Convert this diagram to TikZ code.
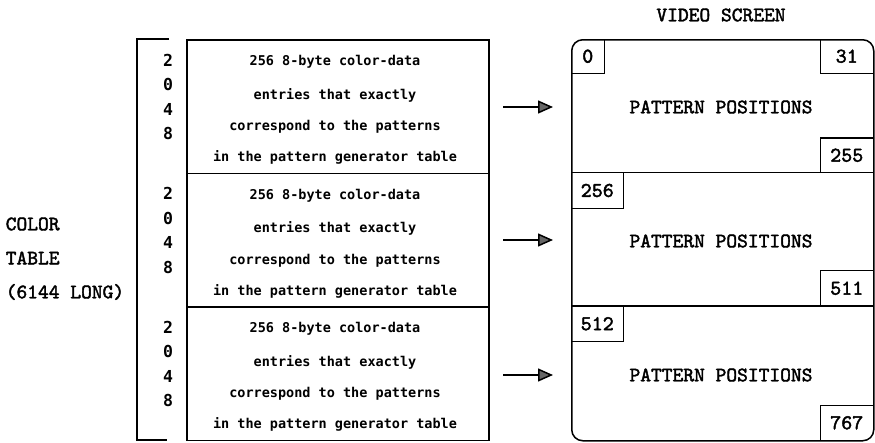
\documentclass[tikz,border=0pt]{standalone}
\usepackage{fontspec}
\usetikzlibrary{arrows.meta}
\newfontfamily\boxf{DejaVu Sans Mono}
\newfontfamily\labf{lmmono10-regular.otf}[FakeBold=2]
\begin{document}
\begin{tikzpicture}[x=1pt,y=-1pt,line width=1.5pt,
  lab/.style={font=\labf\fontsize{20.5}{22}\selectfont,inner sep=0pt},
  numf/.style={font=\labf\fontsize{21}{23}\selectfont,inner sep=0pt,minimum height=33,anchor=north west},
  btext/.style={font=\boxf\bfseries\fontsize{13.5}{16}\selectfont,inner sep=0pt},
  digit/.style={font=\boxf\bfseries\fontsize{16.5}{18}\selectfont,inner sep=0pt},
  secbox/.style={draw,minimum width=302,minimum height=133.5,anchor=north west,inner sep=0pt},
  arr/.style={-{Triangle[length=15pt,width=13pt,fill=black!60]}}]
\useasboundingbox (0,0) rectangle (875,442);
% left labels
\node[lab,anchor=west] (c1) at (5,224) {COLOR};
\node[lab,anchor=west] (c2) at (5,258) {TABLE};
\node[lab,anchor=west] (c3) at (5,292) {(6144 LONG)};
% bracket
\coordinate (bt) at (169,39);
\coordinate (btl) at (137,39);
\coordinate (bbl) at (137,440);
\coordinate (bb) at (167,440);
\draw (bt) -- (btl) -- (bbl) -- (bb);
% sections
\foreach \i/\y in {1/39,2/172.5,3/306} {
  \node[secbox] (s\i) at (186,\y) {};
  \node[digit] (d\i a) at (168,\y+21) {2};
  \node[digit] (d\i b) at (168,\y+45.5) {0};
  \node[digit] (d\i c) at (168,\y+70) {4};
  \node[digit] (d\i d) at (168,\y+94.5) {8};
  \node[btext] (t\i a) at (335,\y+23) {256 8-byte color-data};
  \node[btext] (t\i b) at (335,\y+56) {entries that exactly};
  \node[btext] (t\i c) at (335,\y+88) {correspond to the patterns};
  \node[btext] (t\i d) at (335,\y+118.5) {in the pattern generator table};
}
% screen
\node[lab] (vs) at (721,15) {VIDEO SCREEN};
\node[draw,rounded corners=11pt,minimum width=302,minimum height=401,anchor=north west,inner sep=0pt] (scr) at (571,39) {};
\coordinate (l1) at (571,172.5);
\coordinate (r1) at (873,172.5);
\coordinate (l2) at (571,306);
\coordinate (r2) at (873,306);
\draw (l1) -- (r1);
\draw (l2) -- (r2);
\node[lab] (p1) at (721,107) {PATTERN POSITIONS};
\node[lab] (p2) at (721,241) {PATTERN POSITIONS};
\node[lab] (p3) at (721,375) {PATTERN POSITIONS};
% corner number boxes
\node[numf,minimum width=32] (n0) at (571,39) {0};
\draw (n0.north east) |- (n0.south west);
\node[numf,minimum width=51,anchor=north east] (n31) at (873,39) {31};
\draw (n31.north west) |- (n31.south east);
\node[numf,minimum width=51,anchor=south east] (n255) at (873,172.5) {255};
\draw (n255.south west) |- (n255.north east);
\node[numf,minimum width=51,minimum height=34.5] (n256) at (571,172.5) {256};
\draw (n256.north east) |- (n256.south west);
\node[numf,minimum width=51,minimum height=34,anchor=south east] (n511) at (873,306) {511};
\draw (n511.south west) |- (n511.north east);
\node[numf,minimum width=51,minimum height=34] (n512) at (571,306) {512};
\draw (n512.north east) |- (n512.south west);
\node[numf,minimum width=51,anchor=south east] (n767) at (873,440) {767};
\draw (n767.south west) |- (n767.north east);
% arrows
\foreach \i/\y in {1/107,2/240,3/375} {
  \coordinate (as\i) at (503,\y);
  \coordinate (ae\i) at (553,\y);
  \draw[arr] (as\i) -- (ae\i);
}
\end{tikzpicture}
\end{document}
